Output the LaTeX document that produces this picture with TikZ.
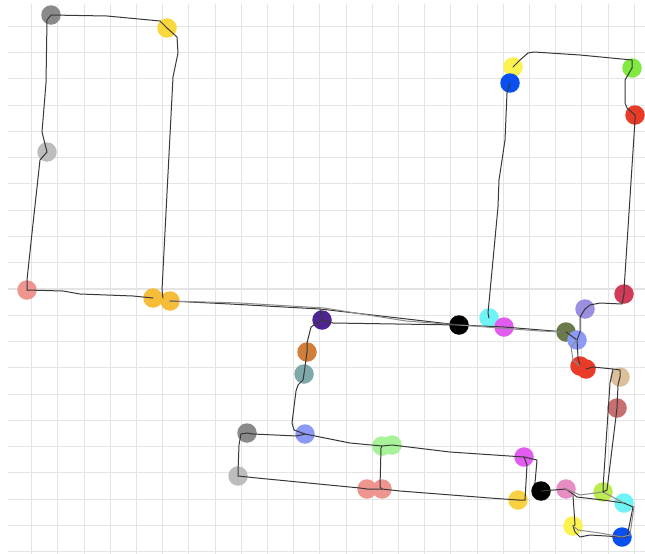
\documentclass[tikz,border=0pt]{standalone}
\usepackage{xcolor}
\usetikzlibrary{positioning}
\definecolor{cGrid}{RGB}{228,228,228}
\definecolor{cGrayD}{RGB}{138,138,138}
\definecolor{cGrayL}{RGB}{189,189,189}
\definecolor{cYellow}{RGB}{249,216,62}
\definecolor{cLemon}{RGB}{251,242,80}
\definecolor{cSalmon}{RGB}{238,149,144}
\definecolor{cAmber}{RGB}{246,189,58}
\definecolor{cPurple}{RGB}{78,37,144}
\definecolor{cRust}{RGB}{208,126,58}
\definecolor{cTeal}{RGB}{127,168,170}
\definecolor{cPeri}{RGB}{140,154,247}
\definecolor{cMint}{RGB}{168,242,154}
\definecolor{cCyan}{RGB}{111,243,245}
\definecolor{cMagenta}{RGB}{226,92,240}
\definecolor{cBlue}{RGB}{10,79,240}
\definecolor{cLime}{RGB}{128,234,64}
\definecolor{cRed}{RGB}{234,58,40}
\definecolor{cCrimson}{RGB}{208,60,88}
\definecolor{cLavender}{RGB}{154,143,224}
\definecolor{cOlive}{RGB}{106,122,72}
\definecolor{cTan}{RGB}{220,192,154}
\definecolor{cRose}{RGB}{200,112,112}
\definecolor{cPink}{RGB}{232,140,196}
\definecolor{cYGreen}{RGB}{188,236,80}
\definecolor{cGold}{RGB}{248,208,64}
\tikzset{
	gridln/.style={draw=cGrid, line width=1.1pt},
	spot/.style={circle, minimum size=19.5pt, inner sep=0pt, fill=#1},
	trace/.style={draw=black!78, line width=1pt, line join=round, line cap=round},
	ghost/.style={draw=black!45, line width=1pt, line join=round, line cap=round},
}

\begin{document}
\begin{tikzpicture}[x=1pt, y=-1pt]
	\useasboundingbox[fill=white] (0,0) rectangle (645,554);
	% grid
	\foreach \i in {1,...,24}
	\draw[gridln] ({5.5+26.2*\i},4) -- ({5.5+26.2*\i},554);
	\foreach \j in {1,...,21}
	\draw[gridln] (8,{26.27*\j}) -- (645,{26.27*\j});
	% spots
	\node[spot=cGrayD] (grayA) at (51,15) {};
	\node[spot=cYellow] (yellowA) at (167,28) {};
	\node[spot=cGrayL] (lgrayA) at (47,152) {};
	\node[spot=cSalmon] (salmonA) at (27,290) {};
	\node[spot=cAmber] (orangeA) at (153,298) {};
	\node[spot=cAmber] (orangeB) at (170,301) {};
	\node[spot=cPurple] (purpleA) at (322,320) {};
	\node[spot=cRust] (rustA) at (307,352) {};
	\node[spot=cTeal] (tealA) at (304,374) {};
	\node[spot=cPeri] (periA) at (305,434) {};
	\node[spot=cGrayD] (grayB) at (247,433) {};
	\node[spot=cGrayL] (lgrayB) at (238,476) {};
	\node[spot=cMint] (mintA) at (382,446) {};
	\node[spot=cMint] (mintB) at (392,445) {};
	\node[spot=cSalmon] (salmonB) at (367,489) {};
	\node[spot=cSalmon] (salmonC) at (382,489) {};
	\node[spot=black] (blackA) at (459,325) {};
	\node[spot=cCyan] (cyanA) at (489,318) {};
	\node[spot=cMagenta] (magentaA) at (504,327) {};
	\node[spot=cLemon] (lemonA) at (513,67) {};
	\node[spot=cBlue] (blueA) at (510,83) {};
	\node[spot=cLime] (limeA) at (632,68) {};
	\node[spot=cRed] (redA) at (635,115) {};
	\node[spot=cCrimson] (crimsonA) at (624,294) {};
	\node[spot=cLavender] (lavenderA) at (585,309) {};
	\node[spot=cOlive] (oliveA) at (566,332) {};
	\node[spot=cPeri] (periB) at (577,340) {};
	\node[spot=cRed] (redB) at (580,366) {};
	\node[spot=cRed] (redC) at (586,369) {};
	\node[spot=cTan] (tanA) at (620,377) {};
	\node[spot=cRose] (roseA) at (617,408) {};
	\node[spot=cMagenta] (magentaB) at (524,457) {};
	\node[spot=cGold] (goldA) at (518,500) {};
	\node[spot=black] (blackB) at (541,491) {};
	\node[spot=cPink] (pinkA) at (566,489) {};
	\node[spot=cYGreen] (ygreenA) at (603,492) {};
	\node[spot=cCyan] (cyanB) at (624,503) {};
	\node[spot=cLemon] (lemonB) at (573,526) {};
	\node[spot=cBlue] (blueB) at (622,537) {};
	\coordinate (topbend) at (320,309);
	\coordinate (tanhook) at (613,369);
	% left loop
	\draw[trace] (grayA.center) -- (107,16) -- (160,21) -- (yellowA.center);
	\draw[trace] (yellowA.center) -- (177,37) -- (178,53) -- (173,77) -- (162,290) -- (orangeA.east);
	\draw[trace] (grayA.center) -- (47,20) -- (46,83) -- (42,132) -- (lgrayA.center);
	\draw[trace] (lgrayA.center) -- (40,160) -- (32,233) -- (27,280) -- (salmonA.center);
	\draw[trace] (salmonA.center) -- (63,291) -- (80,294) -- (133,296) -- (orangeA.center);
	% long run to the right
	\draw[trace] (orangeB.center) -- (230,304) -- (topbend) -- (blackA.center) -- (magentaA.center) -- (oliveA.center);
	\draw[ghost] (orangeB.center) -- (240,303) -- (324,308) -- (406,321) -- (blackA.center) -- (540,331) -- (oliveA.center);
	\draw[trace] (purpleA.center) -- (333,323) -- (blackA.center);
	\draw[trace] (topbend) -- (purpleA.center) -- (311,327) -- (307,343) -- (rustA.center);
	% middle loop
	\draw[trace] (rustA.center) -- (tealA.center) -- (303,380) -- (298,385) -- (296,391) -- (292,423) -- (294,430) -- (periA.center);
	\draw[trace] (grayB.center) -- (253,434) -- (297,436) -- (periA.center) -- (350,443) -- (mintA.center) -- (mintB.center) -- (450,452) -- (magentaB.center);
	\draw[trace] (grayB.center) -- (241,434) -- (239,445) -- (238,472) -- (lgrayB.center);
	\draw[trace] (lgrayB.center) -- (257,478) -- (360,488) -- (salmonB.center) -- (salmonC.center) -- (400,491) -- (490,498) -- (goldA.center);
	\draw[trace] (mintA.center) -- (381,448) -- (380,487) -- (salmonC.center);
	\draw[trace] (magentaB.center) -- (527,465) -- (525,500) -- (goldA.center);
	\draw[trace] (magentaB.center) -- (537,460) -- (535,483) -- (blackB.north west);
	% lower right loop
	\draw[trace] (blackB.center) -- (pinkA.center) -- (577,497) -- (603,500) -- (cyanB.center);
	\draw[ghost] (pinkA.center) -- (580,495) -- (ygreenA.center) -- (cyanB.center);
	\draw[trace] (pinkA.south east) -- (575,525) -- (lemonB.center);
	\draw[trace] (lemonB.center) -- (575,532) -- (580,537) -- (590,535) -- (blueB.center);
	\draw[ghost] (lemonB.center) -- (578,530) -- (600,533) -- (blueB.center);
	\draw[trace] (blueB.center) -- (627,537) -- (633,507) -- (cyanB.center);
	\draw[ghost] (blueB.center) -- (630,535) -- (634,506);
	% upper right loop
	\draw[trace] (lemonA.center) -- (520,60) -- (528,53) -- (534,52) -- (580,55) -- (632,60) -- (limeA.center);
	\draw[trace] (limeA.center) -- (625,80) -- (625,103) -- (627,108) -- (redA.center);
	\draw[trace] (redA.center) -- (635,120) -- (624,290) -- (crimsonA.center);
	\draw[trace] (crimsonA.center) -- (622,304) -- (600,303) -- (590,305) -- (lavenderA.center);
	\draw[trace] (lavenderA.center) -- (580,317) -- (580,332) -- (periB.center);
	\draw[trace] (blueA.center) -- (507,93) -- (505,140) -- (499,180) -- (498,207) -- (488,313) -- (cyanA.center);
	\draw[trace] (oliveA.center) -- (periB.center);
	\draw[trace] (periB.center) -- (578,357) -- (redB.center);
	\draw[ghost] (periB.center) -- (571,347) -- (573,360) -- (redB.center);
	\draw[trace] (redC.center) -- (593,367) -- (tanhook) -- (620,370) -- (tanA.center);
	\draw[trace] (tanhook) -- (610,383) -- (603,488) -- (ygreenA.center);
	\draw[trace] (tanA.center) -- (618,385) -- (roseA.center) -- (607,490) -- (ygreenA.center);
\end{tikzpicture}
\end{document}
